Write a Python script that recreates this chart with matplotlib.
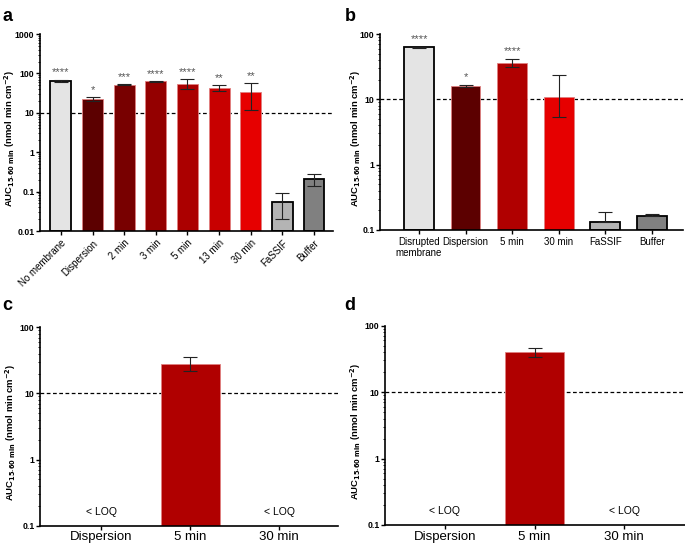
import matplotlib
matplotlib.use("Agg")
import matplotlib.pyplot as plt
import numpy as np
from matplotlib.ticker import LogLocator, FixedLocator, NullFormatter

plt.rcParams["font.family"] = ["Liberation Sans", "DejaVu Sans"]

# panel a
a_labels = ["No membrane", "Dispersion", "2 min", "3 min", "5 min", "13 min", "30 min", "FaSSIF", "Buffer"]
a_values = [65, 22, 52, 63, 55, 43, 33, 0.055, 0.21]
a_err_lo = [62, 20, 50, 62, 41, 36, 11.5, 0.02, 0.14]
a_err_hi = [70, 25.7, 55, 65, 71, 50, 56, 0.091, 0.28]
a_stars = ["****", "*", "***", "****", "****", "**", "**", "", ""]
a_colors = ["#e4e4e4", "#5c0000", "#780000", "#940000", "#ab0000", "#c80000", "#e60000", "#b4b4b4", "#808080"]

# panel b
b_labels = ["Disrupted\nmembrane", "Dispersion", "5 min", "30 min", "FaSSIF", "Buffer"]
b_values = [62.5, 16, 35.6, 11, 0.134, 0.165]
b_err_lo = [62, 15.6, 31.6, 5.3, 0.134, 0.165]
b_err_hi = [63.5, 16.5, 41, 23.3, 0.186, 0.176]
b_stars = ["****", "*", "****", "", "", ""]
b_colors = ["#e4e4e4", "#5c0000", "#b00000", "#e60000", "#b4b4b4", "#808080"]

# panels c, d
cd_labels = ["Dispersion", "5 min", "30 min"]
c_values = [np.nan, 27.5, np.nan]
c_err_lo = [np.nan, 21.9, np.nan]
c_err_hi = [np.nan, 35, np.nan]
d_values = [np.nan, 39.6, np.nan]
d_err_lo = [np.nan, 34, np.nan]
d_err_hi = [np.nan, 46.6, np.nan]
cd_colors = ["#b00000", "#b00000", "#b00000"]

loq_line = 10
ylabel = r"AUC$_{\mathbf{15\text{-}60\ min}}$ (nmol min cm$^{\mathbf{-2}}$)"


def edge_for(color):
    if color in ("#e4e4e4", "#b4b4b4", "#808080"):
        return "black", 1.3
    return "#e08080", 0.6


def draw_panel(ax, labels, values, lo, hi, colors, ylim, xlim, width, stars=None,
               xfont=7, rot=0, loq=False, label_x=-0.075):
    x = np.arange(len(labels))
    vals = np.asarray(values, dtype=float)
    for i in range(len(labels)):
        if np.isnan(vals[i]):
            continue
        ec, lw = edge_for(colors[i])
        ax.bar(x[i], vals[i] - ylim[0], width=width, bottom=ylim[0], color=colors[i],
               edgecolor=ec, linewidth=lw, zorder=2)
        ax.errorbar(x[i], vals[i], yerr=[[vals[i] - lo[i]], [hi[i] - vals[i]]],
                    fmt="none", ecolor="#222222", elinewidth=0.8, capsize=5,
                    capthick=0.8, zorder=3)
        if stars and stars[i]:
            ax.text(x[i], hi[i] * 1.12, stars[i], ha="center", va="bottom",
                    fontsize=8, color="#555555", zorder=4)
    if loq:
        for i in range(len(labels)):
            if np.isnan(vals[i]):
                ax.text(x[i], 0.16, "< LOQ", ha="center", va="center", fontsize=7.5)
    ax.axhline(loq_line, color="black", linestyle=(0, (3, 2)), linewidth=0.9, zorder=1)
    ax.set_yscale("log")
    ax.set_ylim(*ylim)
    ax.set_xlim(*xlim)
    ax.set_xticks(x)
    if rot:
        ax.set_xticklabels(labels, rotation=rot, ha="right", rotation_mode="anchor",
                           fontsize=xfont)
    else:
        ax.set_xticklabels(labels, fontsize=xfont, linespacing=1.1)
    ax.yaxis.set_minor_locator(LogLocator(base=10, subs=np.arange(2, 10), numticks=10))
    ax.yaxis.set_minor_formatter(NullFormatter())
    ticks = [t for t in [0.01, 0.1, 1, 10, 100, 1000] if ylim[0] <= t <= ylim[1]]
    ax.yaxis.set_major_locator(FixedLocator(ticks))
    ax.set_yticklabels([f"{t:g}" for t in ticks], fontsize=6.3, fontweight="bold")
    ax.tick_params(axis="y", which="major", length=3, width=1, pad=1)
    ax.tick_params(axis="y", which="minor", length=1.8, width=0.6)
    ax.tick_params(axis="x", length=3, width=1, pad=2)
    ax.spines["top"].set_visible(False)
    ax.spines["right"].set_visible(False)
    ax.spines["left"].set_linewidth(1.2)
    ax.spines["bottom"].set_linewidth(1.2)
    ax.set_ylabel(ylabel, fontsize=6.8, fontweight="bold")
    ax.yaxis.set_label_coords(label_x, 0.47)


fig = plt.figure(figsize=(6.85, 5.45), dpi=100)

ax_a = fig.add_axes([0.0584, 0.5761, 0.4277, 0.3615])
draw_panel(ax_a, a_labels, a_values, a_err_lo, a_err_hi, a_colors, (0.01, 1000),
           (-0.66, 8.6), 0.66, stars=a_stars, xfont=7, rot=45, label_x=-0.077)

ax_b = fig.add_axes([0.5547, 0.578, 0.4423, 0.3596])
draw_panel(ax_b, b_labels, b_values, b_err_lo, b_err_hi, b_colors, (0.1, 100),
           (-0.84, 5.67), 0.64, stars=b_stars, xfont=7, label_x=-0.055)

ax_c = fig.add_axes([0.0584, 0.0354, 0.435, 0.3641])
draw_panel(ax_c, cd_labels, c_values, c_err_lo, c_err_hi, cd_colors, (0.1, 100),
           (-0.69, 2.66), 0.66, xfont=9.5, loq=True, label_x=-0.075)

ax_d = fig.add_axes([0.562, 0.0367, 0.438, 0.3657])
draw_panel(ax_d, cd_labels, d_values, d_err_lo, d_err_hi, cd_colors, (0.1, 100),
           (-0.67, 2.68), 0.66, xfont=9.5, loq=True, label_x=-0.073)
for ax in (ax_c, ax_d):
    ax.tick_params(axis="x", pad=1)

for lab, xp, yp in [("a", 0.004, 0.985), ("b", 0.503, 0.985), ("c", 0.004, 0.455), ("d", 0.503, 0.455)]:
    fig.text(xp, yp, lab, fontsize=13, fontweight="bold", ha="left", va="top")

fig.savefig("out.png", dpi=100)
